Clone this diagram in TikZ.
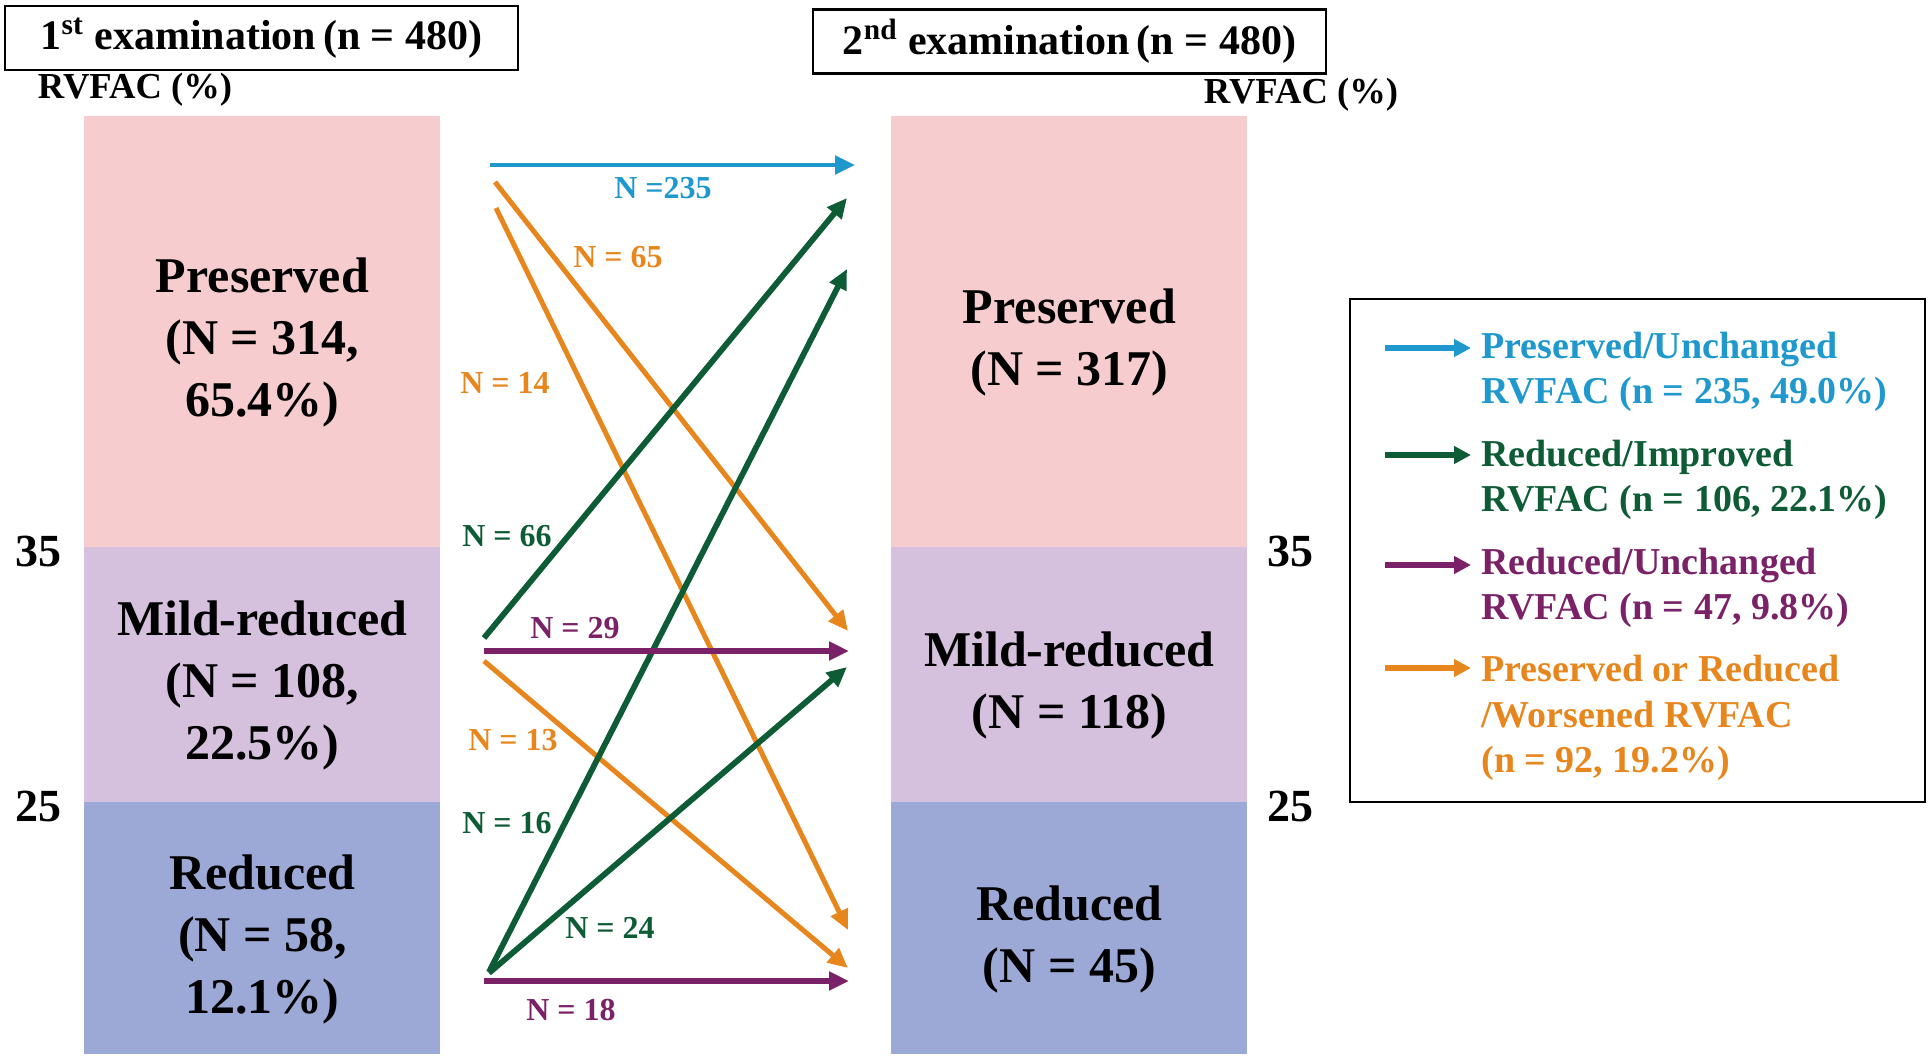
\documentclass[tikz,border=0pt]{standalone}
\usepackage{fontspec}
\setmainfont{Liberation Serif}
\usetikzlibrary{arrows.meta}
\definecolor{cpink}{RGB}{247,204,206}
\definecolor{clav}{RGB}{213,193,221}
\definecolor{cblu}{RGB}{156,168,214}
\definecolor{aBlue}{RGB}{30,152,205}
\definecolor{aGreen}{RGB}{14,92,54}
\definecolor{aPurple}{RGB}{122,33,104}
\definecolor{aOrange}{RGB}{232,134,30}
\begin{document}
\begin{tikzpicture}[x=0.5pt,y=-0.5pt,
  band/.style={rectangle, inner sep=0pt, anchor=north west, minimum width=178pt},
  bandtext/.style={align=center, inner sep=0pt, yshift=-5.5pt, font=\bfseries\fontsize{25}{31}\selectfont},
  titlebox/.style={draw, line width=1.1pt, rectangle, inner sep=0pt, minimum width=256.5pt, minimum height=32pt,
    font=\bfseries\fontsize{21}{25}\selectfont},
  axislab/.style={font=\bfseries\fontsize{23}{27}\selectfont, inner sep=0pt},
  unitlab/.style={font=\bfseries\fontsize{18.3}{21}\selectfont, inner sep=0pt},
  nlab/.style={font=\bfseries\fontsize{16}{19}\selectfont, inner sep=0pt},
  legtext/.style={anchor=west, align=left, inner sep=0pt, font=\bfseries\fontsize{19}{22.75}\selectfont},
  tip/.style={-{Triangle[length=10pt,width=9pt]}},
  fblue/.style={tip, draw=aBlue, fill=aBlue, line width=2.4pt},
  fgreen/.style={tip, draw=aGreen, fill=aGreen, line width=2.9pt},
  fpurple/.style={tip, draw=aPurple, fill=aPurple, line width=2.8pt},
  forange/.style={tip, draw=aOrange, fill=aOrange, line width=2.5pt},
  lgblue/.style={fblue, line width=2.8pt, -{Triangle[length=8.5pt,width=8.5pt]}},
  lggreen/.style={fgreen, line width=2.8pt, -{Triangle[length=8.5pt,width=8.5pt]}},
  lgpurple/.style={fpurple, line width=2.8pt, -{Triangle[length=8.5pt,width=8.5pt]}},
  lgorange/.style={forange, line width=2.8pt, -{Triangle[length=8.5pt,width=8.5pt]}}
]
\useasboundingbox (0,0) rectangle (1929,1061);

% Titles
\node[titlebox] (t1) at (261.5,38) {1\textsuperscript{st} examination\,(n = 480)};
\node[titlebox] (t2) at (1069.5,41.5) {2\textsuperscript{nd} examination\,(n = 480)};
\node[unitlab] (u1) at (135,90) {RVFAC (\%)};
\node[unitlab] (u2) at (1301,95) {RVFAC (\%)};

% Left column
\node[band, fill=cpink, minimum height=215.5pt] (L1) at (84,116) {};
\node[band, fill=clav, minimum height=127.5pt] (L2) at (84,547) {};
\node[band, fill=cblu, minimum height=126pt] (L3) at (84,802) {};
\node[bandtext] (L1t) at (L1.center) {Preserved\\(N = 314,\\65.4\%)};
\node[bandtext] (L2t) at (L2.center) {Mild-reduced\\(N = 108,\\22.5\%)};
\node[bandtext] (L3t) at (L3.center) {Reduced\\(N = 58,\\12.1\%)};
% Right column
\node[band, fill=cpink, minimum height=215.5pt] (R1) at (891,116) {};
\node[band, fill=clav, minimum height=127.5pt] (R2) at (891,547) {};
\node[band, fill=cblu, minimum height=126pt] (R3) at (891,802) {};
\node[bandtext] (R1t) at (R1.center) {Preserved\\(N = 317)};
\node[bandtext] (R2t) at (R2.center) {Mild-reduced\\(N = 118)};
\node[bandtext] (R3t) at (R3.center) {Reduced\\(N = 45)};

% Axis values
\node[axislab] (a35l) at (39,551) {35};
\node[axislab] (a25l) at (39,806) {25};
\node[axislab] (a35r) at (1290,551) {35};
\node[axislab] (a25r) at (1290,806) {25};

% Flow endpoints
\coordinate (bS) at (490,165);  \coordinate (bE) at (855,165);
\coordinate (o65S) at (495,182); \coordinate (o65E) at (848,631);
\coordinate (o14S) at (496,208); \coordinate (o14E) at (848,930);
\coordinate (g66S) at (484,638); \coordinate (g66E) at (847,198);
\coordinate (g16S) at (489,972); \coordinate (g16E) at (847,269);
\coordinate (p29S) at (484,651); \coordinate (p29E) at (849,651);
\coordinate (o13S) at (484,661); \coordinate (o13E) at (848,968);
\coordinate (g24S) at (489,973); \coordinate (g24E) at (847,667);
\coordinate (p18S) at (484,981); \coordinate (p18E) at (849,981);

\draw[forange] (o65S) -- (o65E);
\draw[forange] (o14S) -- (o14E);
\draw[forange] (o13S) -- (o13E);
\draw[fgreen] (g66S) -- (g66E);
\draw[fgreen] (g16S) -- (g16E);
\draw[fgreen] (g24S) -- (g24E);
\draw[fpurple] (p29S) -- (p29E);
\draw[fpurple] (p18S) -- (p18E);
\draw[fblue] (bS) -- (bE);

% Flow labels
\node[nlab, text=aBlue] (n235) at (663,188) {N =235};
\node[nlab, text=aOrange] (n65) at (618,257) {N = 65};
\node[nlab, text=aOrange] (n14) at (505,383) {N = 14};
\node[nlab, text=aGreen] (n66) at (507,536) {N = 66};
\node[nlab, text=aPurple] (n29) at (575,628) {N = 29};
\node[nlab, text=aOrange] (n13) at (513,740) {N = 13};
\node[nlab, text=aGreen] (n16) at (507,823) {N = 16};
\node[nlab, text=aGreen] (n24) at (610,928) {N = 24};
\node[nlab, text=aPurple] (n18) at (571,1010) {N = 18};

% Legend
\node[draw, line width=1pt, rectangle, minimum width=287.5pt, minimum height=251.5pt, inner sep=0pt] (leg) at (1637.5,550.5) {};
\coordinate (l1S) at (1385,348); \coordinate (l1E) at (1471,348);
\coordinate (l2S) at (1385,455); \coordinate (l2E) at (1471,455);
\coordinate (l3S) at (1385,565); \coordinate (l3E) at (1471,565);
\coordinate (l4S) at (1385,668); \coordinate (l4E) at (1471,668);
\draw[lgblue] (l1S) -- (l1E);
\draw[lggreen] (l2S) -- (l2E);
\draw[lgpurple] (l3S) -- (l3E);
\draw[lgorange] (l4S) -- (l4E);
\node[legtext, text=aBlue] (lt1) at (1481,372) {Preserved/Unchanged\\RVFAC (n = 235, 49.0\%)};
\node[legtext, text=aGreen] (lt2) at (1481,480) {Reduced/Improved\\RVFAC (n = 106, 22.1\%)};
\node[legtext, text=aPurple] (lt3) at (1481,588) {Reduced/Unchanged\\RVFAC (n = 47, 9.8\%)};
\node[legtext, text=aOrange] (lt4) at (1481,718) {Preserved or Reduced\\/Worsened RVFAC\\(n = 92, 19.2\%)};
\end{tikzpicture}
\end{document}
